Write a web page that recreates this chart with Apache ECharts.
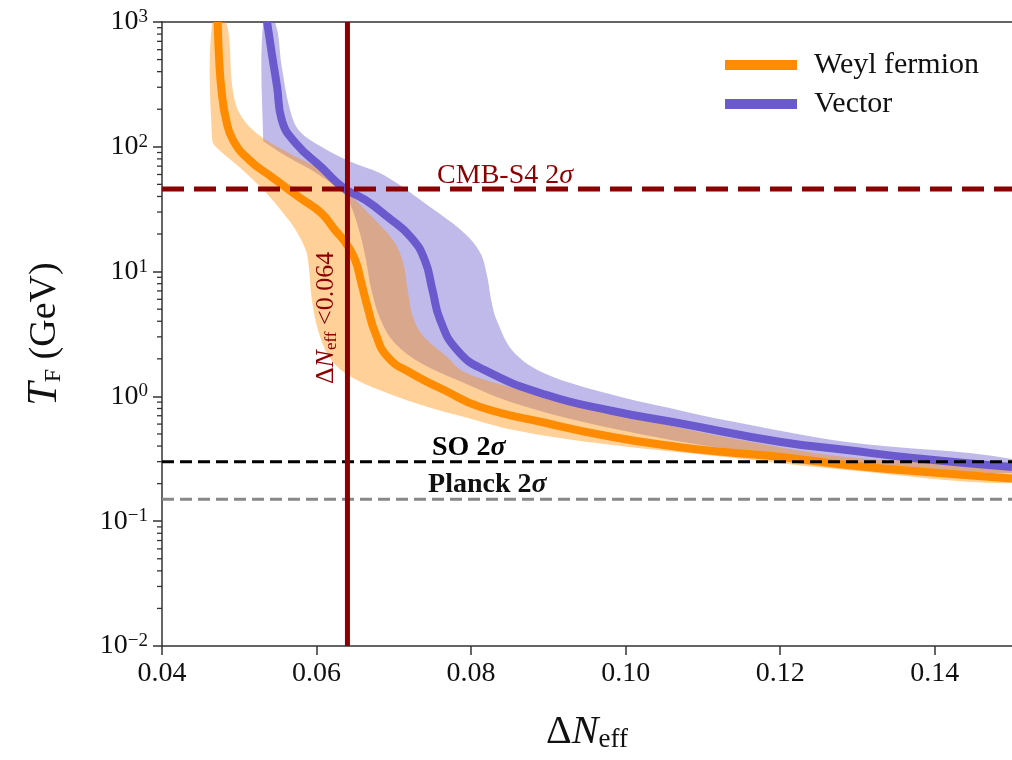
<!DOCTYPE html>
<html>
<head>
<meta charset="utf-8">
<script src="https://cdn.jsdelivr.net/npm/echarts@6/dist/echarts.min.js"></script>
<style>
  html, body { margin: 0; padding: 0; background: #fff; }
  #chart { width: 1012px; height: 760px; }
</style>
</head>
<body>
<div id="chart"></div>
<script>
// axis range
const xMin = 0.04, xMax = 0.15;
const yMin = 0.01, yMax = 1000;
const xTicks = [0.04, 0.06, 0.08, 0.10, 0.12, 0.14];

// limits
const cmbS4Limit = 46;
const soLimit = 0.3;
const planckLimit = 0.15;
const neffBound = 0.064;

// Weyl fermion: central curve and band edges  [dNeff, T_F]
const weylLine = [[0.0472,1000],[0.0474,496],[0.0477,285],[0.0483,164],[0.0492,113],[0.0513,78.4],[0.0542,57.3],[0.0577,39.6],[0.0606,29.5],[0.0624,21.5],[0.0638,16.9],[0.0650,12.4],[0.0658,8.1],[0.0667,4.92],[0.0676,3.22],[0.0692,2.07],[0.0722,1.54],[0.0765,1.125],[0.0812,0.822],[0.0897,0.612],[0.0983,0.473],[0.1068,0.393],[0.1128,0.358],[0.1201,0.327],[0.1286,0.282],[0.1372,0.252],[0.15,0.22]];
const weylLow = [[0.0465,1000],[0.0465,113],[0.0474,94.3],[0.0500,68.9],[0.0535,42.6],[0.0564,25.9],[0.0573,21.5],[0.0586,14.9],[0.0590,10.9],[0.0594,5.92],[0.0603,3.22],[0.0619,1.96],[0.0645,1.43],[0.0692,1.06],[0.0744,0.822],[0.0791,0.684],[0.0855,0.538],[0.0962,0.423],[0.1128,0.327],[0.1286,0.257],[0.15,0.202]];
const weylHigh = [[0.0483,1000],[0.0491,301],[0.0500,187],[0.0522,129],[0.0564,89.2],[0.0606,65.2],[0.0637,45.1],[0.0667,29.5],[0.0699,17.9],[0.0712,11.9],[0.0718,7.12],[0.0724,4.49],[0.0737,3.10],[0.0769,2.07],[0.0791,1.57],[0.0855,1.17],[0.0940,0.885],[0.1026,0.647],[0.1128,0.473],[0.1286,0.327],[0.15,0.267]];

// Vector
const vecLine = [[0.0536,1000],[0.0542,564],[0.0549,301],[0.0555,164],[0.0573,107],[0.0606,68.9],[0.0635,46.8],[0.0663,37.5],[0.0692,27.4],[0.0722,18.9],[0.0740,12.4],[0.0750,7.12],[0.0760,4.09],[0.0782,2.35],[0.0817,1.63],[0.0897,1.03],[0.0983,0.764],[0.1068,0.612],[0.1201,0.431],[0.1286,0.372],[0.1372,0.321],[0.15,0.272]];
const vecLow = [[0.0531,1000],[0.0531,113],[0.0535,107],[0.0564,82],[0.0599,62],[0.0632,44],[0.0644,34.2],[0.0656,20.4],[0.0664,12.4],[0.0671,7.12],[0.0683,4.09],[0.0701,2.68],[0.0735,1.85],[0.0791,1.28],[0.0855,0.885],[0.0962,0.590],[0.1115,0.393],[0.1286,0.298],[0.15,0.243]];
const vecHigh = [[0.0546,1000],[0.0555,436],[0.0565,205],[0.0577,136],[0.0603,103],[0.0645,75.5],[0.0687,59.4],[0.0747,32.9],[0.0791,20.4],[0.0812,14.1],[0.0821,9.05],[0.0826,5.92],[0.0833,4.09],[0.0855,2.27],[0.0897,1.51],[0.0983,1.03],[0.1068,0.778],[0.1128,0.647],[0.1286,0.431],[0.15,0.315]];

// log minor ticks
const minorMult = [2,3,4,5,6,7,8,9];
const decades = [0.01, 0.1, 1, 10, 100];

const serif = "'Liberation Serif', 'DejaVu Serif', serif";
const orange = '#FF8C00';
const purple = '#6A5ACD';
const darkRed = '#8B0000';

let minorTicks = [];
decades.forEach(function (d) {
  minorMult.forEach(function (m) { minorTicks.push([xMin, m * d]); });
});

function bandSeries(low, high, fill) {
  return {
    type: 'custom',
    z: 1,
    clip: true,
    silent: true,
    data: [[0.1, 1]],
    renderItem: function (params, api) {
      let pts = low.concat(high.slice().reverse()).map(function (p) { return api.coord(p); });
      return { type: 'polygon', shape: { points: pts, smooth: 0.35 }, style: { fill: fill } };
    }
  };
}

function refLine(data, color, width, dash, z) {
  return {
    type: 'line', data: data, showSymbol: false, silent: true, z: z || 4,
    lineStyle: { color: color, width: width, type: dash }
  };
}

// annotation text drawn as plain text elements placed at data positions
function textItem(val, text, size, color, weight, rich, rotate) {
  return { value: val, text: text, size: size, color: color, weight: weight || 'normal', rich: rich, rotate: rotate || 0 };
}

const annotations = [
  textItem([0.0844, 59], 'CMB-S4 2{g|σ}', 28, darkRed, 'normal',
    { g: { fontFamily: serif, fontSize: 28, fontStyle: 'italic', fill: darkRed } }),
  textItem([0.0797, 0.386], 'SO 2{g|σ}', 28, '#000', 'bold',
    { g: { fontFamily: serif, fontSize: 28, fontStyle: 'italic', fontWeight: 'bold', fill: '#000' } }),
  textItem([0.0821, 0.195], 'Planck 2{g|σ}', 28, '#111', 'bold',
    { g: { fontFamily: serif, fontSize: 28, fontStyle: 'italic', fontWeight: 'bold', fill: '#111' } }),
  textItem([0.0613, 4.25], '{d|Δ}{i|N}{s|eff} {d|<0.064}', 26, darkRed, 'normal', {
    d: { fontFamily: serif, fontSize: 26, fill: darkRed },
    i: { fontFamily: serif, fontSize: 26, fontStyle: 'italic', fill: darkRed },
    s: { fontFamily: serif, fontSize: 17, fill: darkRed, verticalAlign: 'bottom', padding: [9, 0, 0, 0] }
  }, Math.PI / 2)
];

let chart = echarts.init(document.getElementById('chart'));
let option = {
  animation: false,
  grid: { left: 162, top: 22, right: -8, bottom: 114 },
  legend: {
    data: ['Weyl fermion', 'Vector'],
    orient: 'vertical',
    left: 720, top: 45,
    icon: 'rect',
    itemWidth: 72, itemHeight: 10,
    itemGap: 9,
    textStyle: { fontFamily: serif, fontSize: 30, color: '#111', padding: [0, 0, 0, 12] }
  },
  xAxis: [{
    type: 'value', min: xMin, max: xMax, interval: 0.02,
    name: '{d|Δ}{i|N}{s|eff}', nameLocation: 'middle', nameGap: 66,
    nameTextStyle: {
      rich: {
        d: { fontFamily: serif, fontSize: 40, color: '#111' },
        i: { fontFamily: serif, fontSize: 40, fontStyle: 'italic', color: '#111' },
        s: { fontFamily: serif, fontSize: 27, color: '#111', verticalAlign: 'bottom', padding: [14, 0, 0, 0] }
      }
    },
    axisLine: { lineStyle: { color: '#333', width: 1.5 } },
    axisTick: { length: 9, lineStyle: { color: '#333', width: 1.5 } },
    axisLabel: {
      fontFamily: serif, fontSize: 28, color: '#111', margin: 14, showMaxLabel: false,
      formatter: function (v) { return v.toFixed(2); }
    },
    splitLine: { show: false }
  }, {
    type: 'value', min: xMin, max: xMax, position: 'top',
    axisLine: { lineStyle: { color: '#333', width: 1.5 } },
    axisTick: { show: false }, axisLabel: { show: false }, splitLine: { show: false }
  }],
  yAxis: {
    type: 'log', logBase: 10, min: yMin, max: yMax,
    name: '{i|T}{s|F} (GeV)', nameLocation: 'middle', nameGap: 96,
    nameTextStyle: {
      rich: {
        i: { fontFamily: serif, fontSize: 42, fontStyle: 'italic', color: '#111' },
        s: { fontFamily: serif, fontSize: 24, color: '#111', verticalAlign: 'bottom', padding: [14, 0, 0, 0] }
      },
      fontFamily: serif, fontSize: 38, color: '#111'
    },
    axisLine: { lineStyle: { color: '#333', width: 1.5 } },
    axisTick: { length: 9, lineStyle: { color: '#333', width: 1.5 } },
    axisLabel: {
      margin: 14,
      formatter: function (v) {
        let e = Math.round(Math.log10(v));
        return '{b|10}{e|' + (e < 0 ? '−' + (-e) : e) + '}';
      },
      rich: {
        b: { fontFamily: serif, fontSize: 28, color: '#111' },
        e: { fontFamily: serif, fontSize: 19, color: '#111', verticalAlign: 'top', padding: [0, 0, 10, 0] }
      }
    },
    splitLine: { show: false }
  },
  series: [
    bandSeries(vecLow, vecHigh, 'rgba(106,90,205,0.42)'),
    bandSeries(weylLow, weylHigh, 'rgba(255,140,0,0.4)'),
    {
      name: 'Vector', type: 'line', data: vecLine, smooth: 0.5, showSymbol: false, z: 3,
      itemStyle: { color: purple }, lineStyle: { color: purple, width: 8 }
    },
    {
      name: 'Weyl fermion', type: 'line', data: weylLine, smooth: 0.5, showSymbol: false, z: 3,
      itemStyle: { color: orange }, lineStyle: { color: orange, width: 8 }
    },
    refLine([[xMin, planckLimit], [xMax, planckLimit]], '#888', 3, [12, 6]),
    refLine([[xMin, soLimit], [xMax, soLimit]], '#000', 3, [12, 6]),
    refLine([[xMin, cmbS4Limit], [xMax, cmbS4Limit]], darkRed, 5, [22, 10]),
    refLine([[neffBound, yMin], [neffBound, yMax]], darkRed, 5, 'solid'),
    {
      type: 'custom', clip: false, silent: true, z: 5, data: minorTicks,
      renderItem: function (params, api) {
        let p = api.coord([api.value(0), api.value(1)]);
        return { type: 'line', shape: { x1: p[0] - 5, y1: p[1], x2: p[0], y2: p[1] },
                 style: { stroke: '#333', lineWidth: 1.3 } };
      }
    },
    {
      type: 'custom', clip: false, silent: true, z: 6,
      data: annotations.map(function (a) { return a.value; }),
      renderItem: function (params, api) {
        let a = annotations[params.dataIndex];
        let p = api.coord([api.value(0), api.value(1)]);
        return {
          type: 'text', x: p[0], y: p[1], rotation: a.rotate,
          style: {
            text: a.text, fontFamily: serif, fontSize: a.size, fontWeight: a.weight,
            fill: a.color, align: 'center', verticalAlign: 'middle', rich: a.rich
          }
        };
      }
    }
  ]
};
chart.setOption(option);
</script>
</body>
</html>
